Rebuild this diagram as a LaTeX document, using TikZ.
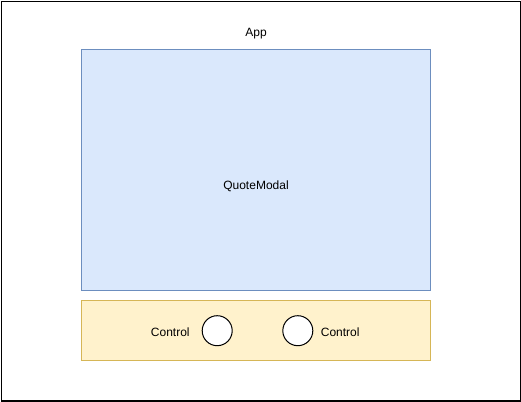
\documentclass[tikz,border=0pt]{standalone}
\usepackage{fontspec}
\setmainfont{Liberation Sans}
\usetikzlibrary{positioning}

\definecolor{modalfill}{HTML}{DAE8FC}
\definecolor{modalline}{HTML}{6C8EBF}
\definecolor{barfill}{HTML}{FFF2CC}
\definecolor{barline}{HTML}{D6B656}

\begin{document}
\begin{tikzpicture}[x=1pt,y=-1pt,font=\fontsize{12}{14}\selectfont,
  frame/.style={draw,line width=1.5pt,inner sep=0pt,anchor=north west},
  panel/.style={draw,line width=1pt,inner sep=0pt,minimum width=349pt},
  knob/.style={circle,draw,fill=white,line width=1pt,minimum size=30pt,inner sep=0pt},
  caption/.style={yshift=-1.5pt}]
\useasboundingbox (0,0) rectangle (521,401);
\node[frame,minimum width=519.5pt,minimum height=399.5pt] (app) at (0.75,0.75) {};
\node[caption] (applabel) at (256,32) {App};
\node[panel,fill=modalfill,draw=modalline,minimum height=240pt] (modal) at (255.5,170) {};
\node[caption] (modallabel) at (256,185) {QuoteModal};
\node[panel,fill=barfill,draw=barline,minimum height=60pt] (bar) at (255.5,330) {};
\node[knob]          (knob_a)                        at (217.2,330.7) {};
\node[knob]          (knob_b) [right=49.6pt of knob_a] {};
\node[caption]       (ctrl_a) [left=8.5pt of knob_a]  {Control};
\node[caption]       (ctrl_b) [right=4pt of knob_b]   {Control};
\end{tikzpicture}
\end{document}
